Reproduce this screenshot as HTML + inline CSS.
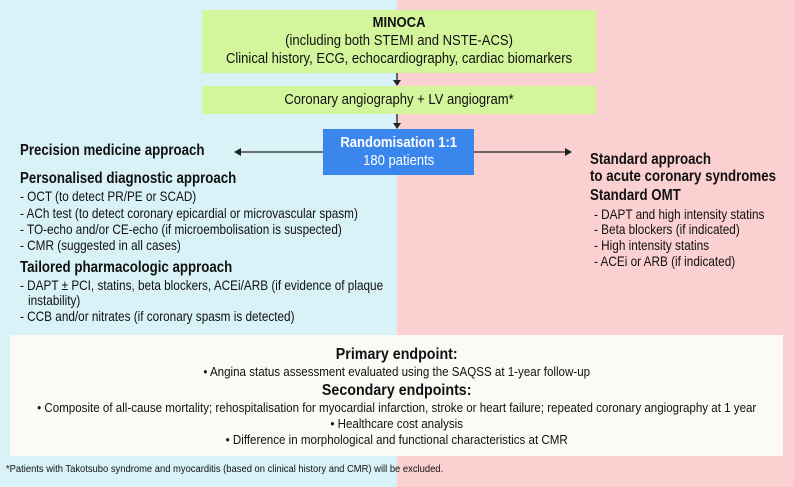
<!DOCTYPE html>
<html><head><style>
body{margin:0;width:794px;height:487px;position:relative;overflow:hidden;font-family:"Liberation Sans",sans-serif;color:#111;}
.bgL{position:absolute;left:0;top:0;width:397px;height:487px;background:#d9f2f8}
.bgR{position:absolute;left:397px;top:0;width:397px;height:487px;background:#fbd0d0}
.t{position:absolute;white-space:nowrap;font-size:14px;line-height:16px;transform-origin:left top;transform:scaleX(.84)}
.h{font-weight:bold;font-size:16px;transform:scaleX(.83)}
.box{position:absolute;overflow:hidden}
.in{position:absolute;left:0;top:0;text-align:center;transform-origin:left top;white-space:nowrap}
</style></head><body>
<div class="bgL"></div><div class="bgR"></div>
<div class="box" style="left:202px;top:10px;width:394px;height:63px;background:#d3f59b">
 <div class="in" style="width:453px;top:4px;font-size:15px;line-height:18px;transform:scaleX(.87)"><b>MINOCA</b><br>(including both STEMI and NSTE-ACS)<br>Clinical history, ECG, echocardiography, cardiac biomarkers</div></div>
<div class="box" style="left:202px;top:86px;width:394px;height:28px;background:#d3f59b">
 <div class="in" style="width:453px;font-size:15px;line-height:28px;transform:scaleX(.87)">Coronary angiography + LV angiogram*</div></div>
<div class="box" style="left:323px;top:129px;width:151px;height:46px;background:#3a86ec;color:#fff">
 <div class="in" style="width:174px;top:5px;font-size:15px;line-height:18px;transform:scaleX(.87)"><b>Randomisation 1:1</b><br>180 patients</div></div>
<svg style="position:absolute;left:0;top:0" width="794" height="487">
<g stroke="#222" stroke-width="1.3" fill="#222">
<line x1="397" y1="73" x2="397" y2="82"/><polygon points="393,80 401,80 397,86" stroke="none"/>
<line x1="397" y1="114" x2="397" y2="125"/><polygon points="393,123 401,123 397,129" stroke="none"/>
<line x1="323" y1="152" x2="240" y2="152"/><polygon points="234,152 241,148 241,156" stroke="none"/>
<line x1="474" y1="152" x2="566" y2="152"/><polygon points="572,152 565,148 565,156" stroke="none"/>
</g></svg>
<div class="t h" style="left:20px;top:143px">Precision medicine approach</div>
<div class="t h" style="left:20px;top:171px">Personalised diagnostic approach</div>
<div class="t" style="left:20px;top:188px">- OCT (to detect PR/PE or SCAD)</div>
<div class="t" style="left:20px;top:205px">- ACh test (to detect coronary epicardial or microvascular spasm)</div>
<div class="t" style="left:20px;top:221px">- TO-echo and/or CE-echo (if microembolisation is suspected)</div>
<div class="t" style="left:20px;top:237px">- CMR (suggested in all cases)</div>
<div class="t h" style="left:20px;top:260px">Tailored pharmacologic approach</div>
<div class="t" style="left:20px;top:277px">- DAPT ± PCI, statins, beta blockers, ACEi/ARB (if evidence of plaque</div>
<div class="t" style="left:28px;top:292px">instability)</div>
<div class="t" style="left:20px;top:308px">- CCB and/or nitrates (if coronary spasm is detected)</div>
<div class="t h" style="left:590px;top:151px;line-height:17px">Standard approach<br>to acute coronary syndromes</div>
<div class="t h" style="left:590px;top:188px">Standard OMT</div>
<div class="t" style="left:594px;top:206px">- DAPT and high intensity statins</div>
<div class="t" style="left:594px;top:221px">- Beta blockers (if indicated)</div>
<div class="t" style="left:594px;top:237px">- High intensity statins</div>
<div class="t" style="left:594px;top:253px">- ACEi or ARB (if indicated)</div>
<div class="box" style="left:10px;top:335px;width:773px;height:121px;background:#fafaf6">
<div class="in" style="width:869px;top:11px;font-size:13px;line-height:16px;transform:scaleX(.89)">
<div style="font-weight:bold;font-size:16px;line-height:18px">Primary endpoint:</div>
<div>• Angina status assessment evaluated using the SAQSS at 1-year follow-up</div>
<div style="font-weight:bold;font-size:16px;line-height:19px;margin-top:1px">Secondary endpoints:</div>
<div>• Composite of all-cause mortality; rehospitalisation for myocardial infarction, stroke or heart failure; repeated coronary angiography at 1 year</div>
<div>• Healthcare cost analysis</div>
<div>• Difference in morphological and functional characteristics at CMR</div>
</div></div>
<div class="t" style="left:6px;top:464px;font-size:10px;line-height:12px;transform:scaleX(.94)">*Patients with Takotsubo syndrome and myocarditis (based on clinical history and CMR) will be excluded.</div>
</body></html>
